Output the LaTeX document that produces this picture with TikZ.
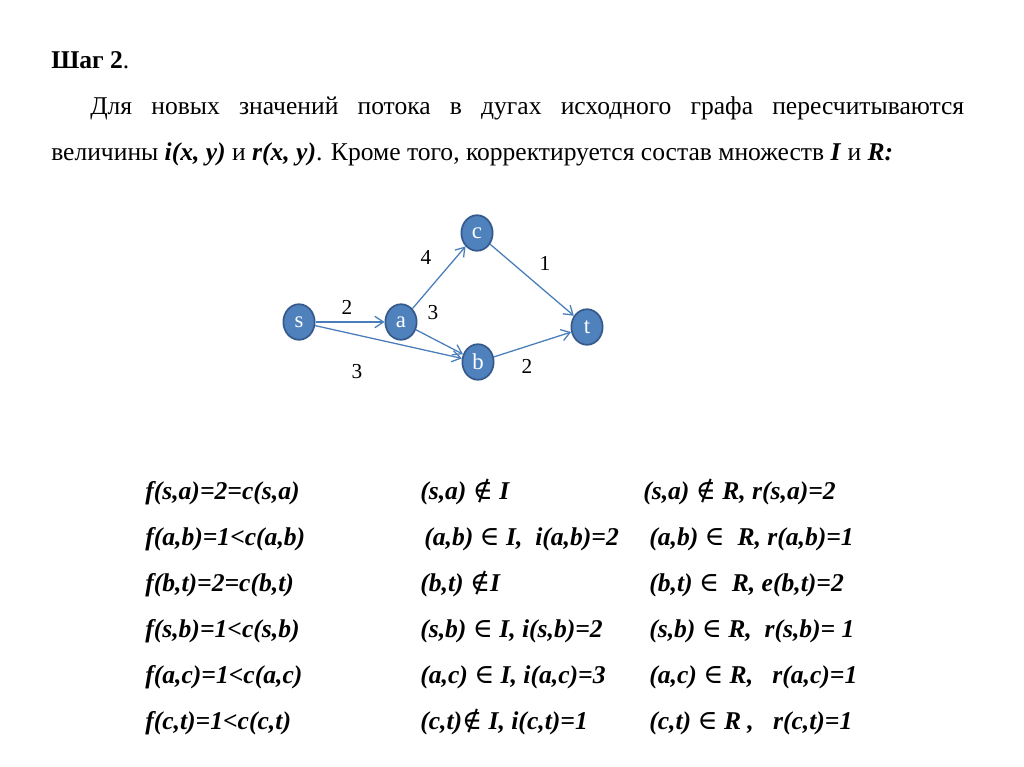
\documentclass[tikz,border=0pt]{standalone}
\usepackage{fontspec}
\setmainfont{Liberation Serif}
\newfontfamily\symf{DejaVu Serif}
\usetikzlibrary{shapes.geometric,arrows.meta}
\definecolor{nodefill}{HTML}{4F81BD}
\definecolor{nodeborder}{HTML}{35598A}
\definecolor{edgecol}{HTML}{4A7EBB}
\newsavebox\lineBbox
\newlength\lineBwd
\newcommand\bi[1]{\textbf{\textit{#1}}}
\newcommand\elin{{\symf\mdseries\upshape\fontsize{19}{22}\selectfont ∈}}
\newcommand\nelin{{\symf\mdseries\upshape\fontsize{19}{22}\selectfont ∉}}
\begin{document}%
\sbox\lineBbox{\fontsize{18}{21}\selectfont величины \bi{i(x, y)} и \bi{r(x, y)}. Кроме того, корректируется состав множеств \bi{I} и \bi{R:}}%
\setlength\lineBwd{\wd\lineBbox}%
\pgfmathsetmacro\sqz{592/\lineBwd}%
\pgfmathsetmacro\lineAw{614.5/\sqz}%
\begin{tikzpicture}[x=0.703125pt,y=-0.703125pt,
  vert/.style={ellipse, draw=nodeborder, fill=nodefill, line width=1.2pt,
    minimum width=22pt, minimum height=25pt, inner sep=0pt, text=white,
    font=\fontsize{16}{18}\selectfont},
  arc/.style={draw=edgecol, line width=0.9pt, -{Straight Barb[length=6pt,width=8pt]}},
  lab/.style={inner sep=0pt, font=\fontsize{15}{17}\selectfont},
  tab/.style={anchor=base west, inner sep=0pt, font=\fontsize{18}{21}\selectfont\bfseries\itshape},
  txt/.style={anchor=base west, inner sep=0pt}]
\useasboundingbox (0,0) rectangle (1024,767);
\fill[white] (0,0) rectangle (1024,767);
\node[txt] (title) at (51,69) {\scalebox{\sqz}[1]{\fontsize{18}{21}\selectfont\textbf{Шаг 2}.}};
\node[txt] (line1) at (90,115) {\scalebox{\sqz}[1]{\fontsize{18}{21}\selectfont\makebox[\lineAw pt][s]{Для новых значений потока в дугах исходного графа пересчитываются}}};
\node[txt] (line2) at (51,161) {\scalebox{\sqz}[1]{\usebox\lineBbox}};
% graph
\node[vert] (s) at (299,322) {s};
\node[vert] (a) at (401,322) {a};
\node[vert] (c) at (477,233) {c};
\node[vert] (t) at (587,327) {t};
\node[vert] (b) at (478,362) {b};
\draw[arc] (s) -- (a);
\draw[arc] (s) -- (b);
\draw[arc] (a) -- (c);
\draw[arc] (a) -- (b);
\draw[arc] (c) -- (t);
\draw[arc] (b) -- (t);
\node[lab] (l1) at (347,307) {2};
\node[lab] (l2) at (426,257) {4};
\node[lab] (l3) at (545,263) {1};
\node[lab] (l4) at (433,313) {3};
\node[lab] (l5) at (357,372) {3};
\node[lab] (l6) at (527,366) {2};
% table
\node[tab] (r1c1) at (145,499) {f(s,a)=2=c(s,a)};
\node[tab] (r2c1) at (145,545) {f(a,b)=1<c(a,b)};
\node[tab] (r3c1) at (145,591) {f(b,t)=2=c(b,t)};
\node[tab] (r4c1) at (145,637) {f(s,b)=1<c(s,b)};
\node[tab] (r5c1) at (145,683) {f(a,c)=1<c(a,c)};
\node[tab] (r6c1) at (145,729) {f(c,t)=1<c(c,t)};
\node[tab] (r1c2) at (420,499) {(s,a) \nelin\ I};
\node[tab] (r2c2) at (424,545) {(a,b) \elin\ I,~ i(a,b)=2};
\node[tab] (r3c2) at (420,591) {(b,t) \nelin I};
\node[tab] (r4c2) at (420,637) {(s,b) \elin\ I, i(s,b)=2};
\node[tab] (r5c2) at (420,683) {(a,c) \elin\ I, i(a,c)=3};
\node[tab] (r6c2) at (420,729) {(c,t)\nelin\ I, i(c,t)=1};
\node[tab] (r1c3) at (643,499) {(s,a) \nelin\ R, r(s,a)=2};
\node[tab] (r2c3) at (649,545) {(a,b) \elin~ R, r(a,b)=1};
\node[tab] (r3c3) at (649,591) {(b,t) \elin~ R, e(b,t)=2};
\node[tab] (r4c3) at (649,637) {(s,b) \elin\ R,~ r(s,b)= 1};
\node[tab] (r5c3) at (649,683) {(a,c) \elin\ R,~~ r(a,c)=1};
\node[tab] (r6c3) at (649,729) {(c,t) \elin\ R ,~~ r(c,t)=1};
\end{tikzpicture}
\end{document}
